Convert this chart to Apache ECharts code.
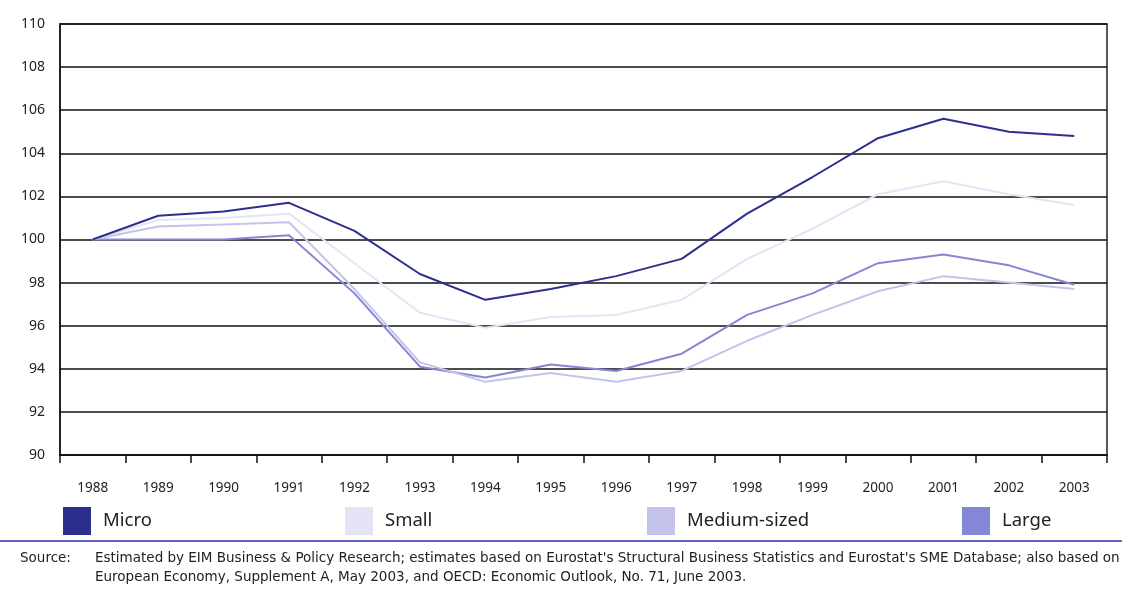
<!DOCTYPE html>
<html>
	<head>
		<meta charset="utf-8">
		<title>Employment index by enterprise size</title>
		<style>
			html, body {
				width: 100%;
				height: 100%;
				margin: 0;
				padding: 0;
				background: #fff;
			}
			#main {
				width: 1122px;
				height: 590px;
			}
		</style>
	</head>
	<body>
		<div id="main"></div>
		<script src="https://cdn.jsdelivr.net/npm/echarts@6/dist/echarts.min.js"></script>
		<script>
			// values (index, 1988 = 100)
			var years = ['1988', '1989', '1990', '1991', '1992', '1993', '1994', '1995', '1996', '1997', '1998', '1999', '2000', '2001', '2002', '2003'];
			var micro = [100, 101.1, 101.3, 101.7, 100.4, 98.4, 97.2, 97.7, 98.3, 99.1, 101.2, 102.9, 104.7, 105.6, 105.0, 104.8];
			var small = [100, 100.9, 101.0, 101.2, 98.9, 96.6, 95.9, 96.4, 96.5, 97.2, 99.1, 100.5, 102.1, 102.7, 102.1, 101.6];
			var medium = [100, 100.6, 100.7, 100.8, 97.7, 94.3, 93.4, 93.8, 93.4, 93.9, 95.3, 96.5, 97.6, 98.3, 98.0, 97.7];
			var large = [100, 100, 100, 100.2, 97.5, 94.1, 93.6, 94.2, 93.9, 94.7, 96.5, 97.5, 98.9, 99.3, 98.8, 97.9];
			var names = ['Micro', 'Small', 'Medium-sized', 'Large'];
			var colors = ['#2c2f8e', '#e4e4f6', '#c3c3ec', '#8686d6'];
			var yTicks = { min: 90, max: 110, step: 2 };

			var font = 'Noto Sans';
			var legendLeft = [63, 345, 647, 962];
			var values = [micro, small, medium, large];

			var series = [];
			var legends = [];
			for (var i = 0; i < names.length; i++) {
				series.push({
					name: names[i],
					type: 'line',
					data: values[i],
					showSymbol: false,
					symbol: 'none',
					z: 10 - i,
					lineStyle: { width: 2, color: colors[i] },
					itemStyle: { color: colors[i] }
				});
				legends.push({
					data: [names[i]],
					left: legendLeft[i],
					top: 507,
					padding: 0,
					icon: 'rect',
					itemWidth: 28,
					itemHeight: 28,
					selectedMode: false,
					textStyle: { fontFamily: font, fontSize: 18.5, color: '#222', padding: [0, 0, 0, 7] }
				});
			}

			var chart = echarts.init(document.getElementById('main'), null, {renderer: 'canvas'});
			chart.setOption({
				animation: false,
				color: colors,
				grid: {
					left: 60,
					right: 15,
					top: 24,
					bottom: 135,
					show: true,
					borderColor: '#222',
					borderWidth: 1.5,
					containLabel: false
				},
				legend: legends,
				xAxis: {
					type: 'category',
					data: years,
					boundaryGap: true,
					axisLine: { lineStyle: { color: '#111', width: 1.5 } },
					axisTick: { show: true, length: 8, interval: 0, lineStyle: { color: '#111', width: 1.5 } },
					axisLabel: { interval: 0, margin: 26, fontFamily: font, fontSize: 13.5, color: '#222' },
					splitLine: { show: false }
				},
				yAxis: {
					type: 'value',
					min: yTicks.min,
					max: yTicks.max,
					interval: yTicks.step,
					axisLine: { show: true, lineStyle: { color: '#111', width: 1.5 } },
					axisTick: { show: false },
					axisLabel: { margin: 15, fontFamily: font, fontSize: 14, color: '#222' },
					splitLine: { lineStyle: { color: '#111', width: 1.5 } }
				},
				series: series,
				graphic: [
					{
						type: 'rect',
						left: 0,
						top: 540,
						shape: { width: 1122, height: 2 },
						style: { fill: '#6464c0' }
					},
					{
						type: 'text',
						left: 20,
						top: 549,
						style: { text: 'Source:', fontFamily: 'DejaVu Sans', fontSize: 13.5, lineHeight: 19, fill: '#222' }
					},
					{
						type: 'text',
						left: 95,
						top: 549,
						style: {
							text: 'Estimated by EIM Business & Policy Research; estimates based on Eurostat\'s Structural Business Statistics and Eurostat\'s SME Database; also based on\nEuropean Economy, Supplement A, May 2003, and OECD: Economic Outlook, No. 71, June 2003.',
							fontFamily: 'DejaVu Sans',
							fontSize: 13.5,
							lineHeight: 19,
							fill: '#222'
						}
					}
				]
			});
		</script>
	</body>
</html>
